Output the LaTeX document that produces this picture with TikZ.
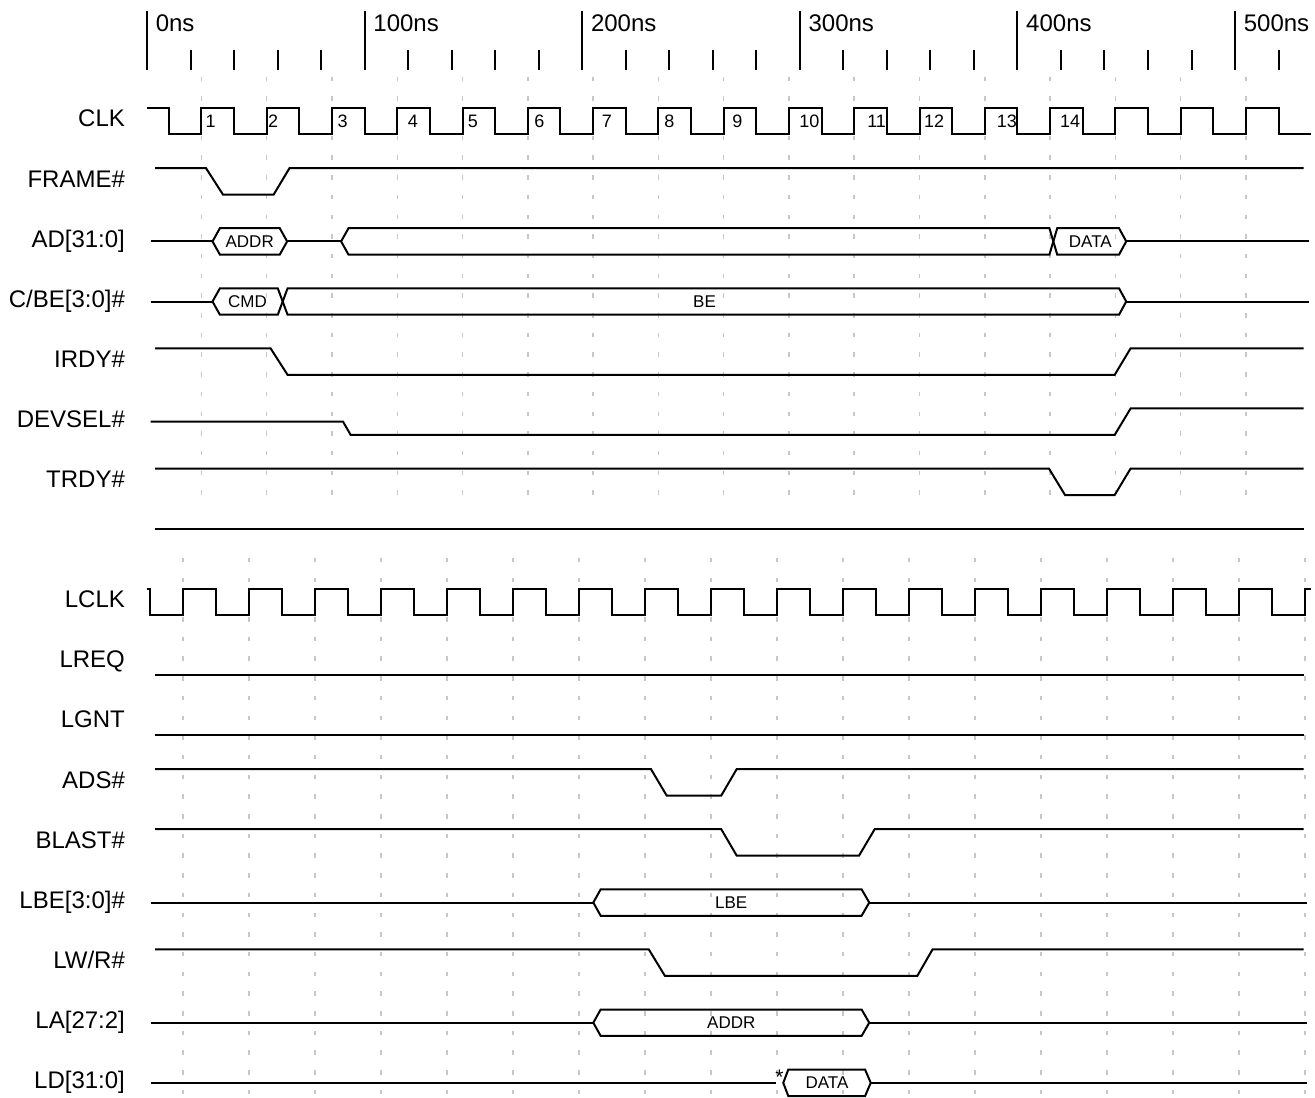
\documentclass[tikz,border=0pt]{standalone}
\usepackage{fontspec}
\setmainfont{Liberation Sans}
\usepackage{tikz}

% one bus cell: row, left tip, left slope, right tip, right slope
\newcommand{\hexbus}[5]{%
	\draw ({#2},{#1+0.22}) -- ({#2+#3},{#1}) -- ({#4-#5},{#1})
		-- ({#4},{#1+0.22}) -- ({#4-#5},{#1+0.44}) -- ({#2+#3},{#1+0.44}) -- cycle;}

\begin{document}
\begin{tikzpicture}[x=1.088pt, y=-30.05pt, line width=1pt,
		every node/.style={font=\fontsize{12}{14}\selectfont},
		signame/.style={anchor=base east, inner sep=0pt},
		buslbl/.style={font=\fontsize{8.5}{10}\selectfont, inner sep=0pt},
		clknum/.style={font=\fontsize{9}{10}\selectfont, anchor=base, inner sep=0pt},
		gridline/.style={black!22, line width=0.75pt, dash pattern=on 2.25pt off 7.6pt}]
	\useasboundingbox (-67.56,-1.797) rectangle (536.76,16.456);

	% time axis
	\foreach \t in {0,100,...,500}{
		\draw (\t,-1.62) -- (\t,-0.632);
		\node[anchor=base west, inner sep=0pt, xshift=3.9pt] (ns\t) at (\t,-1.27) {\t ns};
	}
	\foreach \t in {0,20,...,520}
		\draw (\t,-0.965) -- (\t,-0.632);

	% grid on the rising edges of CLK and LCLK
	\foreach \k in {0,...,16}
		\draw[gridline] ({25+30*\k},-0.521) -- ({25+30*\k},6.52);
	\foreach \k in {0,...,17}
		\draw[gridline] ({16.54+30.33*\k},7.487) -- ({16.54+30.33*\k},16.456);

	% signal names
	\foreach \i/\n in {0/CLK, 1/FRAME\#, 2/AD[31:0], 3/{C/BE[3:0]\#}, 4/IRDY\#,
			5/DEVSEL\#, 6/TRDY\#, 8/LCLK, 9/LREQ, 10/LGNT, 11/ADS\#, 12/BLAST\#,
			13/LBE[3:0]\#, 14/{LW/R\#}, 15/LA[27:2], 16/LD[31:0]}
		\node[signame] (sig\i) at (-9.7,\i+0.316) {\n};

	% CLK
	\draw (0,0) \foreach \k in {0,...,16}{
			-- ({10+30*\k},0) -- ({10+30*\k},0.44) -- ({25+30*\k},0.44) -- ({25+30*\k},0)}
		-- (520,0) -- (520,0.44) -- (535,0.44);
	\foreach \n/\t in {1/29.2, 2/58.0, 3/89.9, 4/122.2, 5/149.8, 6/180.3, 7/211.3,
			8/240.0, 9/271.3, 10/304.4, 11/335.3, 12/361.7, 13/395.1, 14/424.2}
		\node[clknum] (clk\n) at (\t,0.32) {\n};

	\draw (3.7,1) -- (27.1,1) -- (34.9,1.44) -- (58.2,1.44) -- (65.5,1) -- (531.5,1);

	% AD[31:0]
	\draw (1.7,2.22) -- (30.1,2.22);
	\hexbus{2}{30.1}{3.4}{64.4}{3.4}
	\draw (64.4,2.22) -- (89.2,2.22);
	\hexbus{2}{89.2}{3.4}{416.5}{1.8}
	\hexbus{2}{416.5}{1.8}{450}{3.3}
	\draw (450,2.22) -- (534,2.22);
	\node[buslbl] (adAddr) at (47.2,2.22) {ADDR};
	\node[buslbl] (adData) at (433.5,2.22) {DATA};

	% C/BE[3:0]#
	\draw (1.7,3.22) -- (30.1,3.22);
	\hexbus{3}{30.1}{3.4}{62.35}{2.25}
	\hexbus{3}{62.35}{2.25}{450}{3.3}
	\draw (450,3.22) -- (534,3.22);
	\node[buslbl] (cbeCmd) at (46.2,3.22) {CMD};
	\node[buslbl] (cbeBe) at (256.2,3.22) {BE};

	\draw (3.7,4) -- (56.8,4) -- (64.6,4.44) -- (444.7,4.44) -- (452,4) -- (531.5,4);
	\draw (1.7,5.22) -- (90.1,5.22) -- (93.6,5.44) -- (444.7,5.44) -- (452,5) -- (531.5,5);
	\draw (3.7,6) -- (414.5,6) -- (421.9,6.44) -- (444.7,6.44) -- (452,6) -- (531.5,6);
	\draw (3.7,7) -- (531.5,7);

	% LCLK
	\draw (0,8) -- (1.5,8) -- (1.5,8.44) \foreach \k in {0,...,16}{
			-- ({16.54+30.33*\k},8.44) -- ({16.54+30.33*\k},8)
			-- ({31.9+30.33*\k},8) -- ({31.9+30.33*\k},8.44)}
		-- (532.15,8.44) -- (532.15,8) -- (535,8);

	\draw (3.7,9.44) -- (531.5,9.44);
	\draw (3.7,10.44) -- (531.5,10.44);
	\draw (3.7,11) -- (231.6,11) -- (238.8,11.44) -- (263.9,11.44) -- (271,11) -- (531.5,11);
	\draw (3.7,12) -- (263.9,12) -- (271,12.44) -- (327.2,12.44) -- (334.4,12) -- (531.5,12);

	% local bus
	\draw (1.7,13.22) -- (205.1,13.22);
	\hexbus{13}{205.1}{3.4}{331.9}{3.5}
	\draw (331.9,13.22) -- (533,13.22);
	\node[buslbl] (lbeLbl) at (268.5,13.22) {LBE};

	\draw (3.7,14) -- (230.6,14) -- (238,14.44) -- (354,14.44) -- (361,14) -- (531.5,14);

	\draw (1.7,15.22) -- (205.1,15.22);
	\hexbus{15}{205.1}{3.4}{331.9}{3.5}
	\draw (331.9,15.22) -- (533,15.22);
	\node[buslbl] (laAddr) at (268.5,15.22) {ADDR};

	\draw (1.7,16.22) -- (289,16.22);
	\node[anchor=base, inner sep=0pt, font=\fontsize{10.5}{12}\selectfont] (ldStar) at (290.6,16.25) {*};
	\hexbus{16}{292.4}{2.3}{332.6}{2.6}
	\draw (332.6,16.22) -- (533,16.22);
	\node[buslbl] (ldData) at (312.5,16.22) {DATA};
\end{tikzpicture}
\end{document}
